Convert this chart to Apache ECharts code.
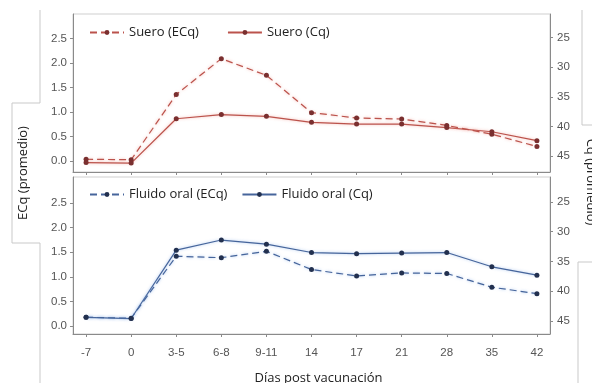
<!doctype html>
<html lang="es">
<head>
  <meta charset="UTF-8">
  <title>ECq / Cq promedio</title>
  <script src="https://cdn.jsdelivr.net/npm/echarts@6/dist/echarts.min.js"></script>
  <style>
    * { margin: 0; padding: 0; }
    html, body { background: #fff; }
    #chart { width: 592px; height: 383px; }
  </style>
</head>
<body>
<div id="chart"></div>
<script>
  // datos
  const days = ['-7', '0', '3-5', '6-8', '9-11', '14', '17', '21', '28', '35', '42']
  const sueroECq = [0.04, 0.03, 1.36, 2.09, 1.75, 0.99, 0.88, 0.86, 0.73, 0.55, 0.30]
  const sueroCq = [46.1, 46.2, 38.7, 38.0, 38.3, 39.3, 39.6, 39.6, 40.2, 40.9, 42.4]
  const fluidoECq = [0.18, 0.16, 1.42, 1.39, 1.52, 1.15, 1.02, 1.08, 1.07, 0.79, 0.66]
  const fluidoCq = [44.4, 44.6, 33.1, 31.4, 32.1, 33.5, 33.7, 33.6, 33.5, 35.9, 37.3]
  const ecqTicks = [0, 0.5, 1, 1.5, 2, 2.5]
  const cqTicks = [25, 30, 35, 40, 45]

  const idx = days.map((d, i) => i)
  const pairs = vals => vals.map((v, i) => [i, v])

  const labelFont = { fontFamily: 'Liberation Sans', fontSize: 11.5, color: '#555' }
  const axisLine = { show: true, onZero: false, lineStyle: { color: '#8a8a8a', width: 1 } }
  const tick = { show: true, length: 3, lineStyle: { color: '#8a8a8a' } }

  function xAxis(grid, showLabels) {
    return {
      type: 'value', gridIndex: grid, min: -0.29, max: 10.29,
      axisLine: axisLine,
      axisTick: Object.assign({ customValues: idx }, tick),
      axisLabel: Object.assign({ show: showLabels, customValues: idx, margin: 13,
        formatter: v => days[Math.round(v)] }, labelFont),
      splitLine: { show: false }
    }
  }

  function ecqAxis(grid, min, max) {
    return {
      type: 'value', gridIndex: grid, position: 'left', min: min, max: max,
      axisLine: axisLine,
      axisTick: Object.assign({ customValues: ecqTicks }, tick),
      axisLabel: Object.assign({ customValues: ecqTicks, margin: 6,
        formatter: v => v.toFixed(1) }, labelFont),
      splitLine: { show: false }
    }
  }

  function cqAxis(grid, min, max) {
    return {
      type: 'value', gridIndex: grid, position: 'right', inverse: true, min: min, max: max,
      axisLine: axisLine,
      axisTick: Object.assign({ customValues: cqTicks }, tick),
      axisLabel: Object.assign({ customValues: cqTicks, margin: 7 }, labelFont),
      splitLine: { show: false }
    }
  }

  function line(name, x, y, vals, dashed, col, halo, dot) {
    return {
      name: name, type: 'line', xAxisIndex: x, yAxisIndex: y,
      data: pairs(vals),
      symbol: 'circle', symbolSize: 5,
      itemStyle: { color: dot },
      lineStyle: { color: col, width: 1.2, type: dashed ? [7, 4] : 'solid',
        shadowColor: halo, shadowBlur: 3 },
      z: dashed ? 3 : 2
    }
  }

  const red = '#bb534c', redHalo = 'rgba(240,150,140,0.7)', redDot = '#7a2f2f'
  const blue = '#46659b', blueHalo = 'rgba(130,170,230,0.7)', blueDot = '#22304f'

  const legendText = { fontFamily: 'Open Sans', fontSize: 13, color: '#222' }
  const faint = { stroke: '#c9c9c9', lineWidth: 1 }

  const chart = echarts.init(document.getElementById('chart'))
  chart.setOption({
    animation: false,
    backgroundColor: '#fff',
    grid: [
      { left: 73, right: 42, top: 14, height: 158, outerBoundsMode: 'none',
        show: true, borderColor: '#cfcfcf', borderWidth: 1 },
      { left: 73, right: 42, top: 177, height: 157, outerBoundsMode: 'none',
        show: true, borderColor: '#cfcfcf', borderWidth: 1 }
    ],
    legend: [
      { left: 84, top: 21, itemWidth: 34, itemHeight: 6, itemGap: 28, textStyle: legendText,
        data: ['Suero (ECq)', 'Suero (Cq)'] },
      { left: 84, top: 183, itemWidth: 34, itemHeight: 6, itemGap: 14, textStyle: legendText,
        data: ['Fluido oral (ECq)', 'Fluido oral (Cq)'] }
    ],
    xAxis: [
      xAxis(0, false),
      Object.assign(xAxis(1, true), {
        name: 'Días post vacunación', nameLocation: 'middle', nameGap: 38,
        nameTextStyle: { fontFamily: 'Open Sans', fontSize: 13, color: '#222', padding: [0, 0, 0, 14] }
      })
    ],
    yAxis: [
      ecqAxis(0, -0.22, 3.0),
      cqAxis(0, 21, 47.7),
      ecqAxis(1, -0.16, 3.03),
      cqAxis(1, 20.8, 47.2)
    ],
    series: [
      line('Suero (ECq)', 0, 0, sueroECq, true, red, redHalo, redDot),
      line('Suero (Cq)', 0, 1, sueroCq, false, red, redHalo, redDot),
      line('Fluido oral (ECq)', 1, 2, fluidoECq, true, blue, blueHalo, blueDot),
      line('Fluido oral (Cq)', 1, 3, fluidoCq, false, blue, blueHalo, blueDot)
    ],
    graphic: [
      { type: 'text', x: 23, y: 173, rotation: Math.PI / 2,
        style: { text: 'ECq (promedio)', fontFamily: 'Open Sans', fontSize: 13, fill: '#222',
          align: 'center', verticalAlign: 'middle' } },
      { type: 'text', x: 591, y: 182, rotation: -Math.PI / 2,
        style: { text: 'Cq (promedio)', fontFamily: 'Open Sans', fontSize: 13, fill: '#222',
          align: 'center', verticalAlign: 'middle' } },
      // recuadros grises del recorte original
      { type: 'polyline', shape: { points: [[40, 10], [40, 103], [12, 103], [12, 243], [40, 243], [40, 383]] }, style: faint, z: -1 },
      { type: 'polyline', shape: { points: [[582, 10], [582, 125], [592, 125]] }, style: faint, z: -1 },
      { type: 'polyline', shape: { points: [[592, 262], [578, 262], [578, 383]] }, style: faint, z: -1 }
    ]
  })
</script>
</body>
</html>
